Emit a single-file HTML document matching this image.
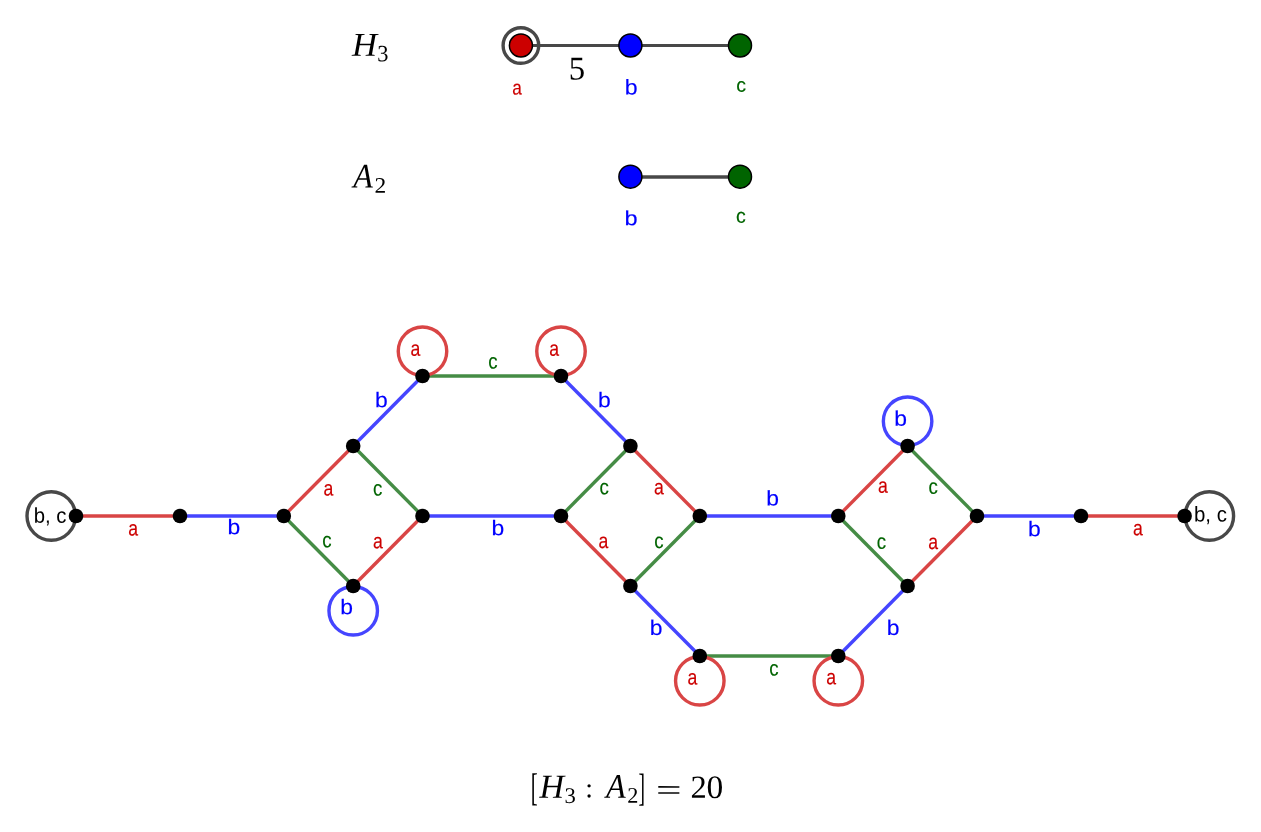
<!DOCTYPE html><html><head><meta charset="utf-8"><title>H3 : A2</title><style>html,body{margin:0;padding:0;background:#fff;}body{width:1261px;height:832px;overflow:hidden;position:relative}svg{position:absolute;left:0;top:0;will-change:transform}text{font-kerning:none}</style></head><body>
<svg width="1261" height="832" viewBox="0 0 1261 832">
<line x1="520.9" y1="45.5" x2="740" y2="45.5" stroke="#484848" stroke-width="3.2"/>
<circle cx="520.9" cy="45.5" r="17.8" fill="none" stroke="#484848" stroke-width="3.4"/>
<circle cx="520.9" cy="45.5" r="11.5" fill="#cc0000" stroke="#000" stroke-width="1.5"/>
<circle cx="630.4" cy="45.5" r="11.5" fill="#0000ff" stroke="#000" stroke-width="1.5"/>
<circle cx="740" cy="45.5" r="11.5" fill="#006400" stroke="#000" stroke-width="1.5"/>
<line x1="630.4" y1="177" x2="740" y2="177" stroke="#484848" stroke-width="3.3"/>
<circle cx="630.4" cy="176.7" r="11.5" fill="#0000ff" stroke="#000" stroke-width="1.5"/>
<circle cx="740" cy="176.7" r="11.5" fill="#006400" stroke="#000" stroke-width="1.5"/>
<text transform="matrix(0.08627 0.0001 0 0.10091 512.37 94.45)" font-family="&quot;Liberation Sans&quot;, sans-serif" font-style="normal" font-size="200" fill="#cc0000" stroke="#cc0000" stroke-width="1.6">a</text>
<text transform="matrix(0.11556 0.0001 0 0.10680 624.65 94.54)" font-family="&quot;Liberation Sans&quot;, sans-serif" font-style="normal" font-size="200" fill="#0000ff" stroke="#0000ff" stroke-width="1.6">b</text>
<text transform="matrix(0.09767 0.0001 0 0.09909 736.17 91.65)" font-family="&quot;Liberation Sans&quot;, sans-serif" font-style="normal" font-size="200" fill="#006400" stroke="#006400" stroke-width="1.6">c</text>
<text transform="matrix(0.11778 0.0001 0 0.10272 624.42 225.14)" font-family="&quot;Liberation Sans&quot;, sans-serif" font-style="normal" font-size="200" fill="#0000ff" stroke="#0000ff" stroke-width="1.6">b</text>
<text transform="matrix(0.09767 0.0001 0 0.10182 736.07 222.65)" font-family="&quot;Liberation Sans&quot;, sans-serif" font-style="normal" font-size="200" fill="#006400" stroke="#006400" stroke-width="1.6">c</text>
<text transform="matrix(0.17355 0.0001 0 0.16679 351.90 55.80)" font-family="&quot;Liberation Serif&quot;, serif" font-style="italic" font-size="200" fill="#000">H</text>
<text transform="matrix(0.11220 0.0001 0 0.11716 377.13 61.32)" font-family="&quot;Liberation Serif&quot;, serif" font-style="normal" font-size="200" fill="#000">3</text>
<text transform="matrix(0.16045 0.0001 0 0.17214 353.31 187.60)" font-family="&quot;Liberation Serif&quot;, serif" font-style="italic" font-size="200" fill="#000">A</text>
<text transform="matrix(0.11750 0.0001 0 0.11136 374.49 192.75)" font-family="&quot;Liberation Serif&quot;, serif" font-style="normal" font-size="200" fill="#000">2</text>
<text transform="matrix(0.16375 0.0001 0 0.16541 568.68 79.52)" font-family="&quot;Liberation Serif&quot;, serif" font-style="normal" font-size="200" fill="#000">5</text>
<text transform="matrix(0.10455 0.0001 0 0.19394 530.68 800.31)" font-family="&quot;Liberation Serif&quot;, serif" font-style="normal" font-size="200" fill="#000">[</text>
<text transform="matrix(0.17032 0.0001 0 0.16870 539.49 797.65)" font-family="&quot;Liberation Serif&quot;, serif" font-style="italic" font-size="200" fill="#000">H</text>
<text transform="matrix(0.11341 0.0001 0 0.11194 564.42 803.03)" font-family="&quot;Liberation Serif&quot;, serif" font-style="normal" font-size="200" fill="#000">3</text>
<text transform="matrix(0.13913 0.0001 0 0.13958 585.32 797.23)" font-family="&quot;Liberation Serif&quot;, serif" font-style="normal" font-size="200" fill="#000">:</text>
<text transform="matrix(0.16119 0.0001 0 0.17214 605.92 797.70)" font-family="&quot;Liberation Serif&quot;, serif" font-style="italic" font-size="200" fill="#000">A</text>
<text transform="matrix(0.11125 0.0001 0 0.11212 627.25 802.75)" font-family="&quot;Liberation Serif&quot;, serif" font-style="normal" font-size="200" fill="#000">2</text>
<text transform="matrix(0.09778 0.0001 0 0.19394 638.47 800.41)" font-family="&quot;Liberation Serif&quot;, serif" font-style="normal" font-size="200" fill="#000">]</text>
<text transform="matrix(0.22688 0.0001 0 0.15200 656.08 799.88)" font-family="&quot;Liberation Serif&quot;, serif" font-style="normal" font-size="200" fill="#000">=</text>
<text transform="matrix(0.16250 0.0001 0 0.16136 690.39 797.65)" font-family="&quot;Liberation Serif&quot;, serif" font-style="normal" font-size="200" fill="#000">2</text>
<text transform="matrix(0.16786 0.0001 0 0.16370 706.41 798.12)" font-family="&quot;Liberation Serif&quot;, serif" font-style="normal" font-size="200" fill="#000">0</text>
<g stroke-width="3.4" fill="none">
<line x1="76" y1="516" x2="180" y2="516" stroke="#d94545"/>
<line x1="180" y1="516" x2="283.8" y2="516" stroke="#4545ff"/>
<line x1="283.8" y1="516" x2="353.2" y2="446" stroke="#d94545"/>
<line x1="283.8" y1="516" x2="353.2" y2="586" stroke="#458c45"/>
<line x1="353.2" y1="446" x2="422.5" y2="516" stroke="#458c45"/>
<line x1="353.2" y1="586" x2="422.5" y2="516" stroke="#d94545"/>
<line x1="353.2" y1="446" x2="422.5" y2="376" stroke="#4545ff"/>
<line x1="422.5" y1="376" x2="561" y2="376" stroke="#458c45"/>
<line x1="561" y1="376" x2="630.4" y2="446" stroke="#4545ff"/>
<line x1="422.5" y1="516" x2="561" y2="516" stroke="#4545ff"/>
<line x1="561" y1="516" x2="630.4" y2="446" stroke="#458c45"/>
<line x1="630.4" y1="446" x2="699.8" y2="516" stroke="#d94545"/>
<line x1="561" y1="516" x2="630.4" y2="586" stroke="#d94545"/>
<line x1="630.4" y1="586" x2="699.8" y2="516" stroke="#458c45"/>
<line x1="630.4" y1="586" x2="699.8" y2="656" stroke="#4545ff"/>
<line x1="699.8" y1="656" x2="838.3" y2="656" stroke="#458c45"/>
<line x1="838.3" y1="656" x2="907.6" y2="586" stroke="#4545ff"/>
<line x1="699.8" y1="516" x2="838.3" y2="516" stroke="#4545ff"/>
<line x1="838.3" y1="516" x2="907.6" y2="446" stroke="#d94545"/>
<line x1="907.6" y1="446" x2="977" y2="516" stroke="#458c45"/>
<line x1="838.3" y1="516" x2="907.6" y2="586" stroke="#458c45"/>
<line x1="907.6" y1="586" x2="977" y2="516" stroke="#d94545"/>
<line x1="977" y1="516" x2="1081" y2="516" stroke="#4545ff"/>
<line x1="1081" y1="516" x2="1184.6" y2="516" stroke="#d94545"/>
<circle cx="422.5" cy="351.25" r="24.25" stroke="#d94545"/>
<circle cx="561.0" cy="351.25" r="24.25" stroke="#d94545"/>
<circle cx="699.8" cy="680.75" r="24.25" stroke="#d94545"/>
<circle cx="838.3" cy="680.75" r="24.25" stroke="#d94545"/>
<circle cx="353.2" cy="610.75" r="24.25" stroke="#4545ff"/>
<circle cx="907.6" cy="421.25" r="24.25" stroke="#4545ff"/>
<circle cx="51.25" cy="516" r="24.25" stroke="#484848"/>
<circle cx="1209.35" cy="516" r="24.25" stroke="#484848"/>
</g>
<g fill="#000">
<circle cx="76" cy="516" r="7.3"/>
<circle cx="180" cy="516" r="7.3"/>
<circle cx="283.8" cy="516" r="7.3"/>
<circle cx="353.2" cy="446" r="7.3"/>
<circle cx="353.2" cy="586" r="7.3"/>
<circle cx="422.5" cy="516" r="7.3"/>
<circle cx="422.5" cy="376" r="7.3"/>
<circle cx="561" cy="376" r="7.3"/>
<circle cx="561" cy="516" r="7.3"/>
<circle cx="630.4" cy="446" r="7.3"/>
<circle cx="630.4" cy="586" r="7.3"/>
<circle cx="699.8" cy="516" r="7.3"/>
<circle cx="699.8" cy="656" r="7.3"/>
<circle cx="838.3" cy="656" r="7.3"/>
<circle cx="838.3" cy="516" r="7.3"/>
<circle cx="907.6" cy="446" r="7.3"/>
<circle cx="907.6" cy="586" r="7.3"/>
<circle cx="977" cy="516" r="7.3"/>
<circle cx="1081" cy="516" r="7.3"/>
<circle cx="1184.6" cy="516" r="7.3"/>
</g>
<text transform="matrix(0.08824 0.0001 0 0.10727 128.21 535.54)" font-family="&quot;Liberation Sans&quot;, sans-serif" font-style="normal" font-size="200" fill="#cc0000" stroke="#cc0000" stroke-width="1.6">a</text>
<text transform="matrix(0.11444 0.0001 0 0.10612 227.48 534.22)" font-family="&quot;Liberation Sans&quot;, sans-serif" font-style="normal" font-size="200" fill="#0000ff" stroke="#0000ff" stroke-width="1.6">b</text>
<text transform="matrix(0.08824 0.0001 0 0.10727 323.61 495.39)" font-family="&quot;Liberation Sans&quot;, sans-serif" font-style="normal" font-size="200" fill="#cc0000" stroke="#cc0000" stroke-width="1.6">a</text>
<text transform="matrix(0.09302 0.0001 0 0.10727 373.02 495.48)" font-family="&quot;Liberation Sans&quot;, sans-serif" font-style="normal" font-size="200" fill="#006400" stroke="#006400" stroke-width="1.6">c</text>
<text transform="matrix(0.11444 0.0001 0 0.10612 374.98 407.27)" font-family="&quot;Liberation Sans&quot;, sans-serif" font-style="normal" font-size="200" fill="#0000ff" stroke="#0000ff" stroke-width="1.6">b</text>
<text transform="matrix(0.09302 0.0001 0 0.10727 322.22 547.13)" font-family="&quot;Liberation Sans&quot;, sans-serif" font-style="normal" font-size="200" fill="#006400" stroke="#006400" stroke-width="1.6">c</text>
<text transform="matrix(0.08824 0.0001 0 0.10727 372.96 548.24)" font-family="&quot;Liberation Sans&quot;, sans-serif" font-style="normal" font-size="200" fill="#cc0000" stroke="#cc0000" stroke-width="1.6">a</text>
<text transform="matrix(0.09302 0.0001 0 0.10727 488.32 368.43)" font-family="&quot;Liberation Sans&quot;, sans-serif" font-style="normal" font-size="200" fill="#006400" stroke="#006400" stroke-width="1.6">c</text>
<text transform="matrix(0.08824 0.0001 0 0.10727 410.41 355.64)" font-family="&quot;Liberation Sans&quot;, sans-serif" font-style="normal" font-size="200" fill="#cc0000" stroke="#cc0000" stroke-width="1.6">a</text>
<text transform="matrix(0.08824 0.0001 0 0.10727 549.21 355.64)" font-family="&quot;Liberation Sans&quot;, sans-serif" font-style="normal" font-size="200" fill="#cc0000" stroke="#cc0000" stroke-width="1.6">a</text>
<text transform="matrix(0.11444 0.0001 0 0.10612 491.58 535.32)" font-family="&quot;Liberation Sans&quot;, sans-serif" font-style="normal" font-size="200" fill="#0000ff" stroke="#0000ff" stroke-width="1.6">b</text>
<text transform="matrix(0.11444 0.0001 0 0.10612 597.88 407.27)" font-family="&quot;Liberation Sans&quot;, sans-serif" font-style="normal" font-size="200" fill="#0000ff" stroke="#0000ff" stroke-width="1.6">b</text>
<text transform="matrix(0.09302 0.0001 0 0.10727 599.62 494.13)" font-family="&quot;Liberation Sans&quot;, sans-serif" font-style="normal" font-size="200" fill="#006400" stroke="#006400" stroke-width="1.6">c</text>
<text transform="matrix(0.08824 0.0001 0 0.10727 654.01 494.19)" font-family="&quot;Liberation Sans&quot;, sans-serif" font-style="normal" font-size="200" fill="#cc0000" stroke="#cc0000" stroke-width="1.6">a</text>
<text transform="matrix(0.08824 0.0001 0 0.10727 598.41 547.89)" font-family="&quot;Liberation Sans&quot;, sans-serif" font-style="normal" font-size="200" fill="#cc0000" stroke="#cc0000" stroke-width="1.6">a</text>
<text transform="matrix(0.09302 0.0001 0 0.10727 654.17 548.08)" font-family="&quot;Liberation Sans&quot;, sans-serif" font-style="normal" font-size="200" fill="#006400" stroke="#006400" stroke-width="1.6">c</text>
<text transform="matrix(0.11444 0.0001 0 0.10612 649.78 635.12)" font-family="&quot;Liberation Sans&quot;, sans-serif" font-style="normal" font-size="200" fill="#0000ff" stroke="#0000ff" stroke-width="1.6">b</text>
<text transform="matrix(0.09302 0.0001 0 0.10727 769.27 675.38)" font-family="&quot;Liberation Sans&quot;, sans-serif" font-style="normal" font-size="200" fill="#006400" stroke="#006400" stroke-width="1.6">c</text>
<text transform="matrix(0.08824 0.0001 0 0.10727 687.61 684.44)" font-family="&quot;Liberation Sans&quot;, sans-serif" font-style="normal" font-size="200" fill="#cc0000" stroke="#cc0000" stroke-width="1.6">a</text>
<text transform="matrix(0.08824 0.0001 0 0.10727 826.21 684.24)" font-family="&quot;Liberation Sans&quot;, sans-serif" font-style="normal" font-size="200" fill="#cc0000" stroke="#cc0000" stroke-width="1.6">a</text>
<text transform="matrix(0.11444 0.0001 0 0.10612 766.18 505.57)" font-family="&quot;Liberation Sans&quot;, sans-serif" font-style="normal" font-size="200" fill="#0000ff" stroke="#0000ff" stroke-width="1.6">b</text>
<text transform="matrix(0.11444 0.0001 0 0.10612 894.28 425.77)" font-family="&quot;Liberation Sans&quot;, sans-serif" font-style="normal" font-size="200" fill="#0000ff" stroke="#0000ff" stroke-width="1.6">b</text>
<text transform="matrix(0.08824 0.0001 0 0.10727 878.11 492.84)" font-family="&quot;Liberation Sans&quot;, sans-serif" font-style="normal" font-size="200" fill="#cc0000" stroke="#cc0000" stroke-width="1.6">a</text>
<text transform="matrix(0.09302 0.0001 0 0.10727 928.57 493.78)" font-family="&quot;Liberation Sans&quot;, sans-serif" font-style="normal" font-size="200" fill="#006400" stroke="#006400" stroke-width="1.6">c</text>
<text transform="matrix(0.09302 0.0001 0 0.10727 876.87 548.83)" font-family="&quot;Liberation Sans&quot;, sans-serif" font-style="normal" font-size="200" fill="#006400" stroke="#006400" stroke-width="1.6">c</text>
<text transform="matrix(0.08824 0.0001 0 0.10727 928.21 548.89)" font-family="&quot;Liberation Sans&quot;, sans-serif" font-style="normal" font-size="200" fill="#cc0000" stroke="#cc0000" stroke-width="1.6">a</text>
<text transform="matrix(0.11444 0.0001 0 0.10612 886.78 635.07)" font-family="&quot;Liberation Sans&quot;, sans-serif" font-style="normal" font-size="200" fill="#0000ff" stroke="#0000ff" stroke-width="1.6">b</text>
<text transform="matrix(0.11444 0.0001 0 0.10612 1027.98 536.27)" font-family="&quot;Liberation Sans&quot;, sans-serif" font-style="normal" font-size="200" fill="#0000ff" stroke="#0000ff" stroke-width="1.6">b</text>
<text transform="matrix(0.08824 0.0001 0 0.10727 1133.01 535.24)" font-family="&quot;Liberation Sans&quot;, sans-serif" font-style="normal" font-size="200" fill="#cc0000" stroke="#cc0000" stroke-width="1.6">a</text>
<text transform="matrix(0.11444 0.0001 0 0.10612 340.28 614.27)" font-family="&quot;Liberation Sans&quot;, sans-serif" font-style="normal" font-size="200" fill="#0000ff" stroke="#0000ff" stroke-width="1.6">b</text>
<text transform="matrix(0.10164 0.0001 0 0.10748 33.63 522.85)" font-family="&quot;Liberation Sans&quot;, sans-serif" font-size="200" fill="#000">b, c</text>
<text transform="matrix(0.10230 0.0001 0 0.10714 1193.92 521.50)" font-family="&quot;Liberation Sans&quot;, sans-serif" font-size="200" fill="#000">b, c</text>
</svg></body></html>
